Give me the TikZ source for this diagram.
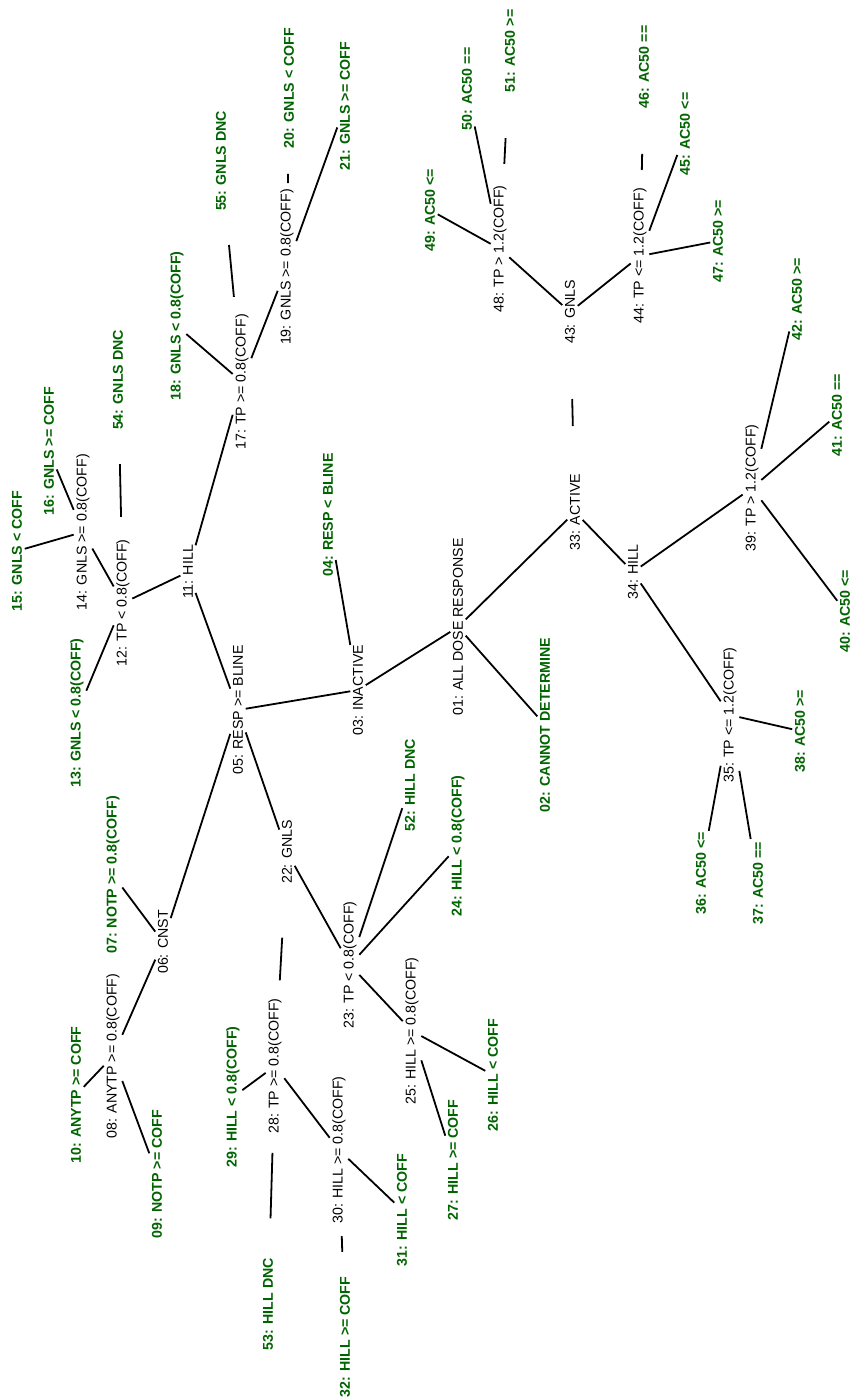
\documentclass[tikz,border=0pt]{standalone}
\usepackage{fontspec}
\setmainfont{Liberation Sans}
\usetikzlibrary{calc}
\definecolor{leafgreen}{RGB}{0,100,0}
\tikzset{
  inner/.style={rotate=90, inner sep=2.5pt, font=\fontsize{14.2}{16}\selectfont},
  leaf/.style={rotate=90, inner sep=2.5pt, text=leafgreen, font=\fontsize{14.2}{16}\selectfont\bfseries},
  edge/.style={draw=black, line width=1.8pt}
}
\begin{document}
\begin{tikzpicture}[x=1pt,y=-1pt]
\useasboundingbox[fill=white] (0,0) rectangle (854,1399);
% internal nodes
\node[inner] (n01) at (458,627) {01: ALL DOSE RESPONSE};
\node[inner] (n03) at (358,690) {03: INACTIVE};
\node[inner] (n05) at (238,710) {05: RESP >= BLINE};
\node[inner] (n06) at (163,942) {06: CNST};
\node[inner] (n08) at (113,1056) {08: ANYTP >= 0.8(COFF)};
\node[inner] (n11) at (188,572) {11: HILL};
\node[inner] (n12) at (123,603) {12: TP < 0.8(COFF)};
\node[inner] (n14) at (83,532) {14: GNLS >= 0.8(COFF)};
\node[inner] (n17) at (242,382) {17: TP >= 0.8(COFF)};
\node[inner] (n19) at (287,267) {19: GNLS >= 0.8(COFF)};
\node[inner] (n22) at (287,852) {22: GNLS};
\node[inner] (n23) at (350,965) {23: TP < 0.8(COFF)};
\node[inner] (n25) at (412,1031) {25: HILL >= 0.8(COFF)};
\node[inner] (n28) at (275,1066) {28: TP >= 0.8(COFF)};
\node[inner] (n30) at (339,1150) {30: HILL >= 0.8(COFF)};
\node[inner] (n33) at (575,512) {33: ACTIVE};
\node[inner] (n34) at (633,572) {34: HILL};
\node[inner] (n35) at (730,715) {35: TP <= 1.2(COFF)};
\node[inner] (n39) at (752,488) {39: TP > 1.2(COFF)};
\node[inner] (n43) at (570,312) {43: GNLS};
\node[inner] (n44) at (640,256) {44: TP <= 1.2(COFF)};
\node[inner] (n48) at (500,249) {48: TP > 1.2(COFF)};
% leaves
\node[leaf] (n02) at (545,725) {02: CANNOT DETERMINE};
\node[leaf] (n04) at (328,515) {04: RESP < BLINE};
\node[leaf] (n07) at (113,875) {07: NOTP >= 0.8(COFF)};
\node[leaf] (n09) at (157,1174) {09: NOTP >= COFF};
\node[leaf] (n10) at (76,1095) {10: ANYTP >= COFF};
\node[leaf] (n13) at (77,713) {13: GNLS < 0.8(COFF)};
\node[leaf] (n15) at (17,551) {15: GNLS < COFF};
\node[leaf] (n16) at (49,451) {16: GNLS >= COFF};
\node[leaf] (n18) at (177,326) {18: GNLS < 0.8(COFF)};
\node[leaf] (n20) at (289,88) {20: GNLS < COFF};
\node[leaf] (n21) at (345,106) {21: GNLS >= COFF};
\node[leaf] (n24) at (458,846) {24: HILL < 0.8(COFF)};
\node[leaf] (n26) at (493,1075) {26: HILL < COFF};
\node[leaf] (n27) at (453,1160) {27: HILL >= COFF};
\node[leaf] (n29) at (233,1097) {29: HILL < 0.8(COFF)};
\node[leaf] (n31) at (402,1210) {31: HILL < COFF};
\node[leaf] (n32) at (345,1337) {32: HILL >= COFF};
\node[leaf] (n36) at (701,873) {36: AC50 <=};
\node[leaf] (n37) at (758,883) {37: AC50 ==};
\node[leaf] (n38) at (800,731) {38: AC50 >=};
\node[leaf] (n40) at (845,611) {40: AC50 <=};
\node[leaf] (n41) at (837,415) {41: AC50 ==};
\node[leaf] (n42) at (797,299) {42: AC50 >=};
\node[leaf] (n45) at (685,134) {45: AC50 <=};
\node[leaf] (n46) at (644,67) {46: AC50 ==};
\node[leaf] (n47) at (718,241) {47: AC50 >=};
\node[leaf] (n49) at (430,210) {49: AC50 <=};
\node[leaf] (n50) at (467,89) {50: AC50 ==};
\node[leaf] (n51) at (510,51) {51: AC50 >=};
\node[leaf] (n52) at (410,785) {52: HILL DNC};
\node[leaf] (n53) at (268,1304) {53: HILL DNC};
\node[leaf] (n54) at (118,380) {54: GNLS DNC};
\node[leaf] (n55) at (221,161) {55: GNLS DNC};
% connectors
\foreach \a/\b in {01/03,01/02,01/33,03/04,03/05,05/11,05/06,05/22,06/07,06/08,
  08/09,08/10,11/12,11/17,12/13,12/14,14/15,14/16,17/18,17/19,19/21,22/23,
  23/52,23/24,23/25,25/26,25/27,28/29,28/30,30/31,33/34,34/39,34/35,
  35/36,35/37,35/38,39/40,39/41,39/42,43/48,43/44,44/45,44/47,48/49,48/50}
  \draw[edge] (n\a) -- (n\b);
% connectors shown only as a middle piece
\draw[edge] ($(n12)!0.386!(n54)$) -- ($(n12)!0.623!(n54)$);
\draw[edge] ($(n17)!0.385!(n55)$) -- ($(n17)!0.62!(n55)$);
\draw[edge] ($(n19)!0.469!(n20)$) -- ($(n19)!0.52!(n20)$);
\draw[edge] ($(n33)!0.43!(n43)$) -- ($(n33)!0.565!(n43)$);
\draw[edge] ($(n48)!0.43!(n51)$) -- ($(n48)!0.56!(n51)$);
\draw[edge] ($(n44)!0.455!(n46)$) -- ($(n44)!0.54!(n46)$);
\draw[edge] ($(n22)!0.40!(n28)$) -- ($(n22)!0.60!(n28)$);
\draw[edge] ($(n28)!0.365!(n53)$) -- ($(n28)!0.64!(n53)$);
\draw[edge] ($(n30)!0.46!(n32)$) -- ($(n30)!0.545!(n32)$);
\end{tikzpicture}
\end{document}
